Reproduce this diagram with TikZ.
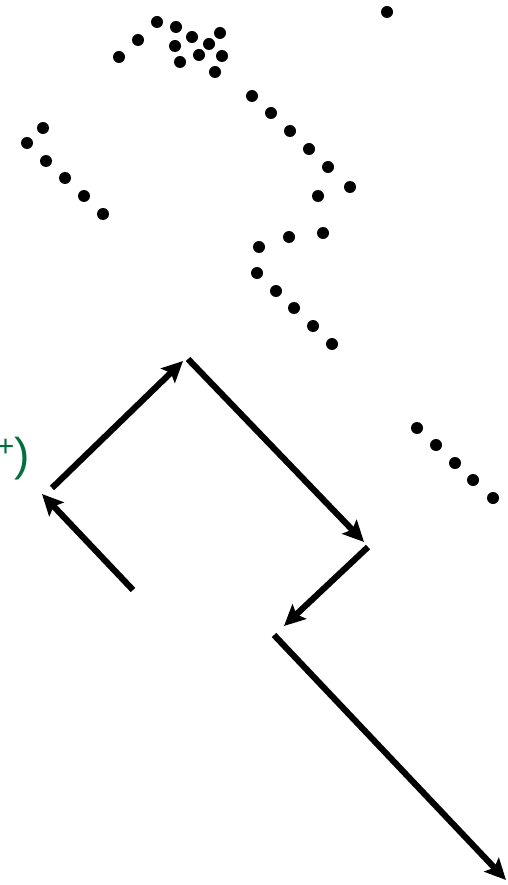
\documentclass[tikz,border=0pt]{standalone}
\usepackage{fontspec}
\setmainfont{Liberation Sans}
\usetikzlibrary{arrows.meta}
\definecolor{labelgreen}{RGB}{0,112,60}
\begin{document}
\begin{tikzpicture}[x=1pt,y=-1pt,
  dot/.style={circle,fill=black,inner sep=0pt,minimum size=12pt},
  flow/.style={line width=6.2pt,-{Stealth[length=21pt,width=20pt,inset=4pt]}},
  lbl/.style={text=labelgreen,inner sep=0pt,font=\fontsize{46}{50}\selectfont}]
\useasboundingbox (0,0) rectangle (507,885);
% dots
\foreach \px/\py [count=\i] in {
  387/12, 157/22, 176/27, 192/37, 220/33, 138/40, 175/46, 209/44, 119/57,
  199/55, 222/56, 180/62, 215/72,
  43/128, 27/143, 46/161, 65/178, 84/196, 103/214,
  252/96, 271/113, 290/131, 309/149, 328/167, 350/187, 318/196,
  323/233, 289/237, 259/247, 257/273, 276/291, 294/308, 313/326, 332/344,
  417/428, 436/445, 455/463, 473/480, 493/498}
  \node[dot] (d\i) at (\px,\py) {};
% label
\node[lbl,anchor=base east] (lab) at (30,470) {\raisebox{14pt}{\fontsize{30}{30}\selectfont +})};
% arrow end points
\coordinate (a0) at (133,590);
\coordinate (a1) at (42,494);
\coordinate (b0) at (52,488);
\coordinate (b1) at (183,361);
\coordinate (c0) at (188,359);
\coordinate (c1) at (364,542);
\coordinate (e0) at (368,547);
\coordinate (e1) at (284,626);
\coordinate (f0) at (274,635);
\coordinate (f1) at (506,880);
\draw[flow] (a0) -- (a1);
\draw[flow] (b0) -- (b1);
\draw[flow] (c0) -- (c1);
\draw[flow] (e0) -- (e1);
\draw[flow] (f0) -- (f1);
\end{tikzpicture}
\end{document}
